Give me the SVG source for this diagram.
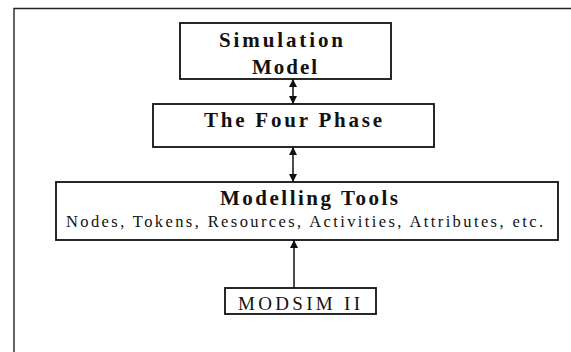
<svg xmlns="http://www.w3.org/2000/svg" width="571" height="352" viewBox="0 0 571 352">
<style>
.box{fill:#fff;stroke:#111;stroke-width:1.8}
.frame{fill:none;stroke:#222;stroke-width:1.4}
.conn{stroke:#111;stroke-width:1.5;fill:none}
.t{font-family:"Liberation Serif","Times New Roman",serif;font-weight:bold;font-size:21px;fill:#111}
.r{font-family:"Liberation Serif","Times New Roman",serif;font-size:16.5px;fill:#111}
.m{font-family:"Liberation Serif","Times New Roman",serif;font-size:19px;fill:#111}
</style>
<defs>
<marker id="ah" viewBox="0 0 10 10" refX="10" refY="5" markerWidth="8" markerHeight="8" orient="auto-start-reverse" markerUnits="userSpaceOnUse">
<path d="M0,0 L10,5 L0,10 z" fill="#111"/>
</marker>
</defs>
<rect width="571" height="352" fill="#fff"/>
<path class="frame" d="M14,352 V8.5 H571"/>
<g id="connectors">
<line class="conn" x1="293" y1="79" x2="293" y2="104" marker-start="url(#ah)" marker-end="url(#ah)"/>
<line class="conn" x1="293" y1="147" x2="293" y2="182" marker-start="url(#ah)" marker-end="url(#ah)"/>
<line class="conn" x1="294" y1="288" x2="294" y2="240" marker-end="url(#ah)"/>
</g>
<g id="simulation-model">
<rect class="box" x="180" y="23" width="211" height="56"/>
<text class="t" x="219" y="47" textLength="124" lengthAdjust="spacing">Simulation</text>
<text class="t" x="252" y="74" textLength="65" lengthAdjust="spacing">Model</text>
</g>
<g id="four-phase">
<rect class="box" x="153" y="104" width="281" height="43"/>
<text class="t" x="204" y="127" textLength="178" lengthAdjust="spacing">The Four Phase</text>
</g>
<g id="modelling-tools">
<rect class="box" x="56" y="182" width="502" height="58"/>
<text class="t" x="220" y="205" textLength="178" lengthAdjust="spacing">Modelling Tools</text>
<text class="r" x="66" y="227" textLength="477" lengthAdjust="spacing">Nodes, Tokens, Resources, Activities, Attributes, etc.</text>
</g>
<g id="modsim">
<rect class="box" x="225" y="288" width="151" height="26"/>
<text class="m" x="238" y="310" textLength="122" lengthAdjust="spacing">MODSIM II</text>
</g>
</svg>
